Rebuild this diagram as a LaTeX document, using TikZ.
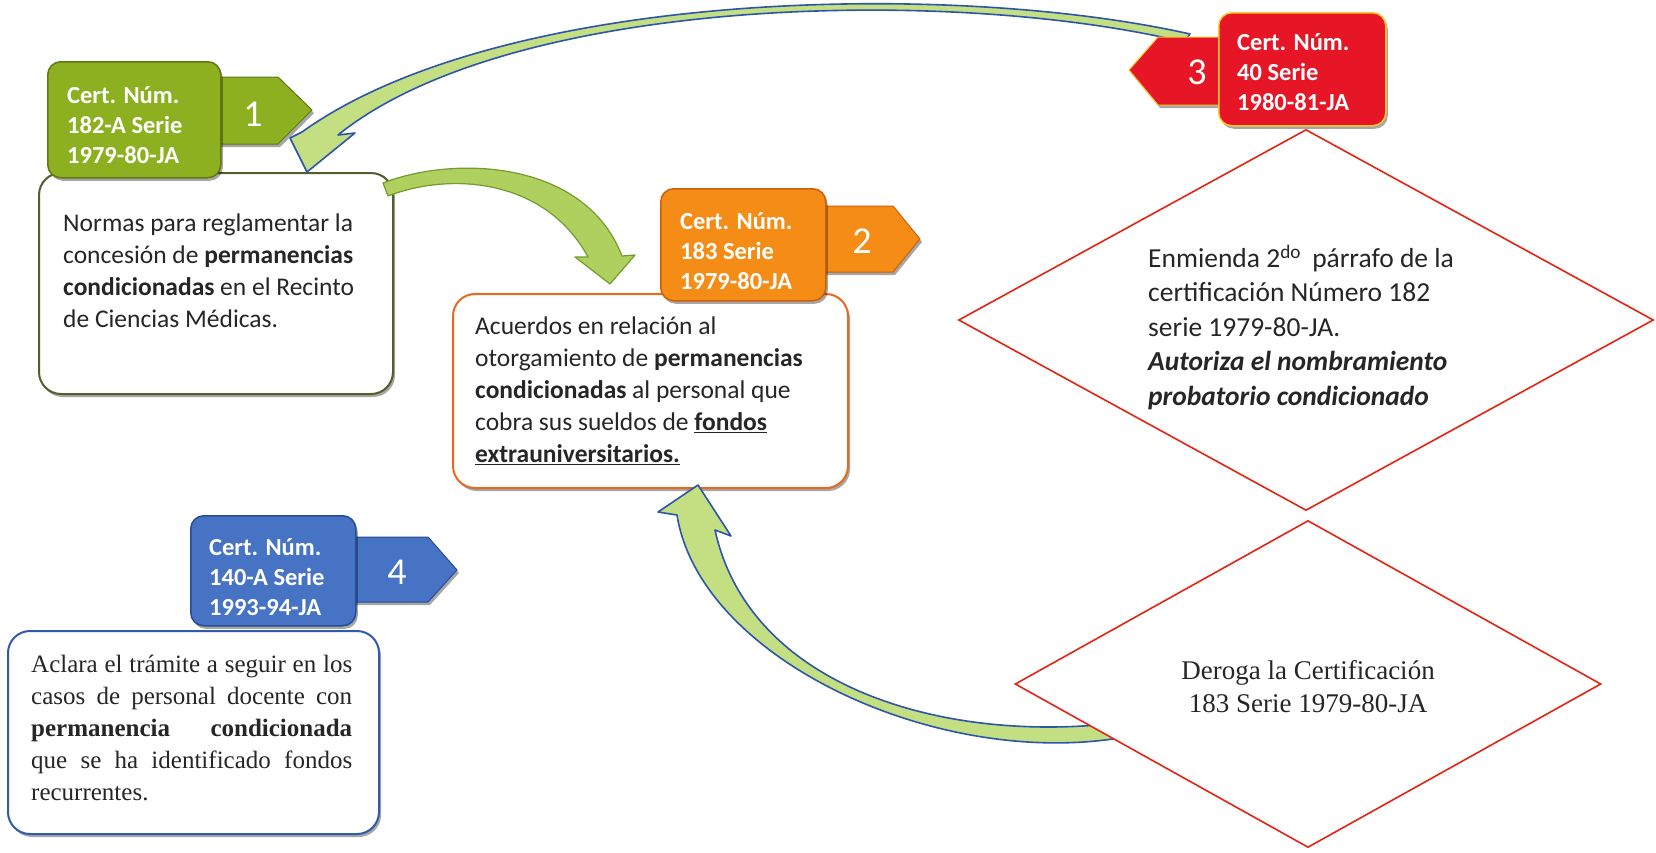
\documentclass[tikz,border=0pt]{standalone}
\usepackage{fontspec}
\setmainfont{Carlito}
\newfontfamily\tnr{Liberation Serif}
\usetikzlibrary{shapes.geometric,shadows}

\definecolor{gA}{RGB}{141,176,33}
\definecolor{gAd}{RGB}{95,120,20}
\definecolor{oA}{RGB}{244,140,22}
\definecolor{oAd}{RGB}{205,95,10}
\definecolor{rA}{RGB}{230,22,38}
\definecolor{rAb}{RGB}{250,200,40}
\definecolor{bA}{RGB}{70,115,196}
\definecolor{bAd}{RGB}{40,75,150}
\definecolor{boxonel}{RGB}{80,95,45}
\definecolor{boxtwol}{RGB}{232,105,30}
\definecolor{boxfourl}{RGB}{50,90,170}
\definecolor{arrfill}{RGB}{196,222,130}
\definecolor{arrline}{RGB}{45,85,170}
\definecolor{garr}{RGB}{175,208,95}
\definecolor{garrline}{RGB}{115,155,45}
\definecolor{dmline}{RGB}{228,35,20}

\tikzset{
  shad/.style={drop shadow={shadow xshift=2pt,shadow yshift=-3pt,opacity=0.35,fill=black}},
  whitebox/.style={shape=rectangle, line width=2pt, fill=white, rounded corners=22pt, shad, inner sep=0pt, anchor=north west},
  labelbox/.style={shape=rectangle, rounded corners=13pt, line width=1.5pt, shad, inner sep=0pt, anchor=north west},
  labeltext/.style={text=white, font=\bfseries\fontsize{24.5}{30}\selectfont, align=left, inner sep=0pt, anchor=west},
  tabpath/.style={line width=1pt, shad},
  numtext/.style={text=white, font=\fontsize{38}{40}\selectfont, inner sep=0pt},
  boxtext/.style={font=\fontsize{25.5}{32}\selectfont, align=left, inner sep=0pt, anchor=west, text=black!85},
  dmd/.style={draw=dmline, line width=1.6pt, fill=white, shape=diamond, inner sep=0pt},
  blockarrow/.style={fill=arrfill, draw=arrline, line width=1.6pt, line join=round},
  greenarrow/.style={fill=garr, draw=garrline, line width=1.2pt, line join=round},
}

\begin{document}
\begin{tikzpicture}[x=1pt,y=-1pt]
\useasboundingbox (0,0) rectangle (1656,852);
\fill[white] (0,0) rectangle (1656,852);

% ---------- Box 1 ----------
\node[whitebox, draw=boxonel, minimum width=354pt, minimum height=221pt] (box1) at (38,172) {};
\node[boxtext] (t1) at (63,271) {Normas para reglamentar la\\concesión de \textbf{permanencias}\\\textbf{condicionadas} en el Recinto\\de Ciencias Médicas.};
\fill[gA, draw=gAd, tabpath] (210,77) -- (278,77) -- (312,110) -- (278,144) -- (210,144) -- cycle;
\node[numtext] (n1) at (253,114) {1};
\node[labelbox, fill=gA, draw=gAd, minimum width=173pt, minimum height=116pt] (lab1) at (47,61) {};
\node[labeltext] (lt1) at (67,125) {Cert. Núm.\\182-A Serie\\1979-80-JA};

% ---------- Box 2 ----------
\node[whitebox, draw=boxtwol, minimum width=395pt, minimum height=194pt] (box2) at (452,293) {};
\node[boxtext] (t2) at (475,391) {Acuerdos en relación al\\otorgamiento de \textbf{permanencias}\\\textbf{condicionadas} al personal que\\cobra sus sueldos de \underline{\textbf{fondos}}\\\underline{\textbf{extrauniversitarios.}}};
\fill[oA, draw=oAd, tabpath] (815,206) -- (893,206) -- (920,239) -- (893,272) -- (815,272) -- cycle;
\node[numtext] (n2) at (862,241) {2};
\node[labelbox, fill=oA, draw=oAd, minimum width=165pt, minimum height=112pt] (lab2) at (660,188) {};
\node[labeltext] (lt2) at (680,251) {Cert. Núm.\\183 Serie\\1979-80-JA};

% ---------- Box 4 ----------
\node[whitebox, draw=boxfourl, minimum width=371pt, minimum height=203pt] (box4) at (7,630) {};
\node[font=\tnr\fontsize{25}{32}\selectfont, text width=321pt, align=justify, inner sep=0pt, anchor=west, text=black!85] (t4) at (31,728)
  {Aclara el trámite a seguir en los\linebreak casos de personal docente con\linebreak \textbf{permanencia condicionada}\linebreak que se ha identificado fondos\linebreak recurrentes.};
\fill[bA, draw=bAd, tabpath] (345,537) -- (428,537) -- (457,570) -- (428,602) -- (345,602) -- cycle;
\node[numtext] (n4) at (397,572) {4};
\node[labelbox, fill=bA, draw=bAd, minimum width=165pt, minimum height=110pt] (lab4) at (190,515) {};
\node[labeltext] (lt4) at (209,577) {Cert. Núm.\\140-A Serie\\1993-94-JA};

% ---------- Arrows ----------
\coordinate (ta1) at (1190,34);
\coordinate (ta2) at (1184,42);
\filldraw[blockarrow] (ta1) .. controls (950,-20) and (500,-10) .. (302,132) -- (290,138) -- (307,172) -- (355,133) -- (338,135) .. controls (510,-4) and (950,-14) .. (ta2) -- cycle;

\filldraw[greenarrow] (383,183) .. controls (455,155) and (585,160) .. (622,256) -- (635,255) -- (610,284) -- (575,257) -- (588,257) .. controls (545,178) and (450,172) .. (388,196) -- cycle;

\coordinate (tb1) at (1125,737);
\coordinate (tb2) at (1125,722);
\filldraw[blockarrow] (tb1) .. controls (940,770) and (700,660) .. (677,515) -- (658,512) -- (698,485) -- (731,536) -- (715,530) .. controls (750,690) and (950,745) .. (tb2) -- cycle;

% ---------- Red label 3 ----------
\fill[rA, draw=rAb, tabpath] (1228,37) -- (1158,37) -- (1129,70) -- (1158,105) -- (1228,105) -- cycle;
\node[numtext] (n3) at (1197,72) {3};
\node[labelbox, fill=rA, draw=rAb, minimum width=167pt, minimum height=113pt] (lab3) at (1218,12) {};
\node[labeltext] (lt3) at (1237,72) {Cert. Núm.\\40 Serie\\1980-81-JA};

% ---------- Diamonds ----------
\node[dmd, minimum width=695pt, minimum height=381pt] (d1) at (1306,320) {};
\node[font=\fontsize{27.5}{34.5}\selectfont, align=left, inner sep=0pt, anchor=west, text=black!85] (dt1) at (1148,327)
  {Enmienda 2\textsuperscript{do}\hspace{5pt} párrafo de la\\certificación Número 182\\serie 1979-80-JA.\\\textbf{\textit{Autoriza el nombramiento}}\\\textbf{\textit{probatorio condicionado}}};

\node[dmd, minimum width=586pt, minimum height=327pt] (d2) at (1308,684) {};
\node[font=\tnr\fontsize{27}{33}\selectfont, align=center, inner sep=0pt, text=black!85] (dt2) at (1308,687)
  {Deroga la Certificación\\183 Serie 1979-80-JA};

\end{tikzpicture}
\end{document}
